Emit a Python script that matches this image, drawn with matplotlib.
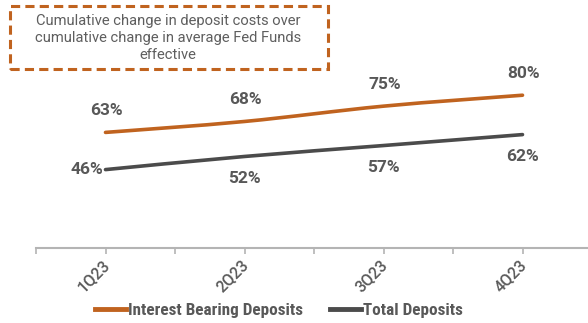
import matplotlib
matplotlib.use("Agg")
import matplotlib.pyplot as plt
from matplotlib import font_manager
from matplotlib.path import Path
from matplotlib.patches import PathPatch, Rectangle
from matplotlib.lines import Line2D
from matplotlib.transforms import ScaledTranslation

# ---- data ----
quarters = ["1Q23", "2Q23", "3Q23", "4Q23"]
interest_bearing = [63, 68, 75, 80]
total_deposits = [46, 52, 57, 62]
series_names = ["Interest Bearing Deposits", "Total Deposits"]
note_text = ("Cumulative change in deposit costs over\n"
             "cumulative change in average Fed Funds\n"
             "effective")

ORANGE = "#C0631F"
DARK = "#4B4B4B"
TEXT = "#585858"
AXIS = "#B4B4B4"

W, H = 588, 323
available = {f.name for f in font_manager.fontManager.ttflist}
if "Roboto Condensed" in available:
    NARROW, LEG_SIZE = "Roboto Condensed", 12.3
elif "Liberation Sans Narrow" in available:
    NARROW, LEG_SIZE = "Liberation Sans Narrow", 12.0
else:
    NARROW, LEG_SIZE = "Roboto", 10.4

fig = plt.figure(figsize=(W / 100, H / 100), dpi=100)


def px_axes(x0, y0, x1, y1):
    """Axes placed by pixel box (top-left origin)."""
    return fig.add_axes([x0 / W, 1 - y1 / H, (x1 - x0) / W, (y1 - y0) / H])


def smooth_path(xs, ys, t=0.5):
    """Catmull-Rom style cubic Bezier through the given points."""
    verts = [(xs[0], ys[0])]
    codes = [Path.MOVETO]
    n = len(xs)
    for i in range(n - 1):
        x0, y0 = (xs[i - 1], ys[i - 1]) if i > 0 else (xs[i], ys[i])
        x1, y1 = xs[i], ys[i]
        x2, y2 = xs[i + 1], ys[i + 1]
        x3, y3 = (xs[i + 2], ys[i + 2]) if i + 2 < n else (x2, y2)
        c1 = (x1 + (x2 - x0) * t / 3, y1 + (y2 - y0) * t / 3)
        c2 = (x2 - (x3 - x1) * t / 3, y2 - (y3 - y1) * t / 3)
        verts += [c1, c2, (x2, y2)]
        codes += [Path.CURVE4] * 3
    return Path(verts, codes)


# ---- plot area (category axis runs past the right edge) ----
ax = px_axes(36, 60, 592, 247.7)
ax.set_xlim(-0.5, len(quarters) - 0.5)
ax.set_ylim(10.3, 96.1)
ax.patch.set_alpha(0)
for s in ["top", "right", "left"]:
    ax.spines[s].set_visible(False)
ax.spines["bottom"].set_color(AXIS)
ax.spines["bottom"].set_linewidth(1.5)
ax.set_yticks([])
ax.set_xticks(range(len(quarters)))
ax.set_xticklabels(quarters, rotation=45, ha="right", va="top", rotation_mode="anchor",
                   fontsize=11.5, color="#5A5A5A", family="Roboto", fontweight="medium")
ax.set_xticks([i - 0.5 for i in range(len(quarters) + 1)], minor=True)
ax.tick_params(axis="x", which="both", length=4, width=1.2, color=AXIS, pad=3)
shift = ScaledTranslation(-4 / 100, 0, fig.dpi_scale_trans)
for lab in ax.get_xticklabels():
    lab.set_transform(lab.get_transform() + shift)

xs = list(range(len(quarters)))
for vals, col in [(interest_bearing, ORANGE), (total_deposits, DARK)]:
    ax.add_patch(PathPatch(smooth_path(xs, vals), fill=False, edgecolor=col,
                           linewidth=2.6, capstyle="round"))

lab_kw = dict(textcoords="offset pixels", fontsize=12.5, fontweight="bold",
              color=TEXT, family="Roboto")
for i, v in enumerate(interest_bearing):
    ax.annotate(f"{v}%", (i, v), xytext=(1, 22), ha="center", va="center", **lab_kw)
for i, v in enumerate(total_deposits):
    if i == 0:
        ax.annotate(f"{v}%", (i, v), xytext=(-2, 0), ha="right", va="center", **lab_kw)
    else:
        ax.annotate(f"{v}%", (i, v), xytext=(0, -22), ha="center", va="center", **lab_kw)

# ---- note box ----
fig.patches.append(Rectangle((10 / W, 1 - 69 / H), 318 / W, 63 / H, transform=fig.transFigure,
                             fill=False, edgecolor=ORANGE, linewidth=2.2,
                             linestyle=(0, (3.0, 1.7))))
fig.text(168 / W, 1 - 38 / H, note_text, ha="center", va="center", fontsize=10.6,
         color="#5E5E5E", family="Roboto", linespacing=1.25)

# ---- legend ----
handles = [Line2D([], [], color=ORANGE, linewidth=3.5),
           Line2D([], [], color=DARK, linewidth=3.5)]
leg = fig.legend(handles, series_names, loc="center", bbox_to_anchor=(279 / W, 1 - 310 / H),
                 ncol=2, frameon=False, handlelength=1.8, handletextpad=0.12,
                 columnspacing=1.58,
                 prop=dict(family=NARROW, weight="bold", size=LEG_SIZE))
for t in leg.get_texts():
    t.set_color(TEXT)

fig.savefig("out.png", dpi=100)
